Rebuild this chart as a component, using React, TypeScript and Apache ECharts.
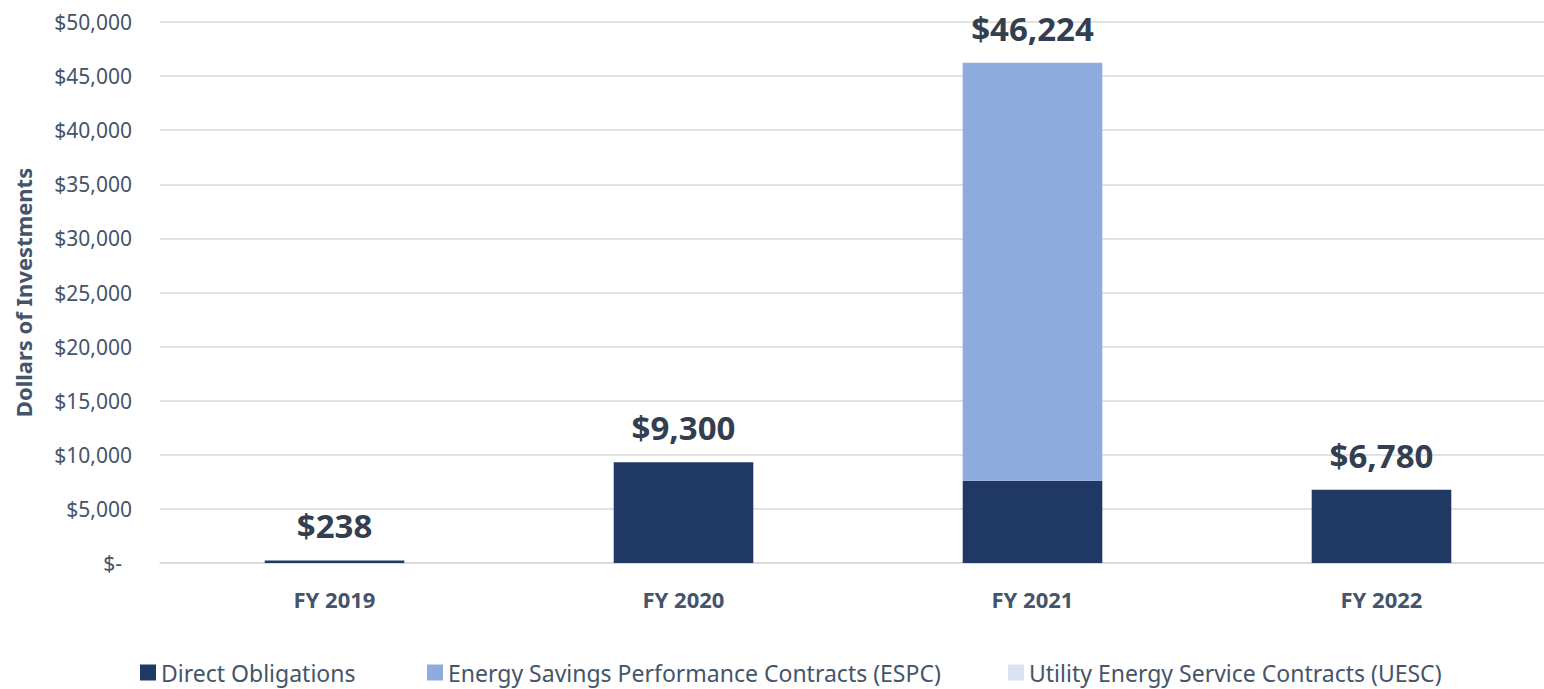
import React, { useEffect, useRef } from "react";
import * as echarts from "echarts";

const categories = ["FY 2019", "FY 2020", "FY 2021", "FY 2022"];
const directObligations = [238, 9300, 7600, 6780];
const espc = [0, 0, 38624, 0];
const uesc = [0, 0, 0, 0];
const yTicks = { min: 0, max: 50000, interval: 5000 };

const totals = categories.map((_, i) => directObligations[i] + espc[i] + uesc[i]);

const FONT = "'Noto Sans', 'Open Sans', sans-serif";
const TEXT = "#44546a";

export default function App() {
  const ref = useRef<HTMLDivElement>(null);
  useEffect(() => {
    document.body.style.margin = "0";
    const chart = echarts.init(ref.current!, undefined, { renderer: "svg" });
    const legendBase = {
      bottom: 0,
      itemWidth: 16,
      itemHeight: 16,
      itemGap: 6,
      icon: "rect",
      textStyle: { fontFamily: FONT, fontSize: 23, color: TEXT },
    };
    chart.setOption({
      animation: false,
      textStyle: { fontFamily: FONT },
      grid: { left: 160, right: 0, top: 22, bottom: 126 },
      legend: [
        { ...legendBase, left: 135, data: ["Direct Obligations"] },
        { ...legendBase, left: 422, data: ["Energy Savings Performance Contracts (ESPC)"] },
        { ...legendBase, left: 1003, data: ["Utility Energy Service Contracts (UESC)"] },
      ],
      xAxis: {
        type: "category",
        data: categories,
        axisLine: { lineStyle: { color: "#d9d9d9", width: 1.5 } },
        axisTick: { show: false },
        axisLabel: {
          margin: 25,
          fontFamily: FONT,
          fontSize: 22,
          fontWeight: "bold",
          color: TEXT,
        },
      },
      yAxis: {
        type: "value",
        min: yTicks.min,
        max: yTicks.max,
        interval: yTicks.interval,
        name: "Dollars of Investments",
        nameLocation: "middle",
        nameGap: 126,
        nameTextStyle: { fontFamily: FONT, fontSize: 22, fontWeight: "bold", color: TEXT },
        axisLine: { show: false },
        axisTick: { show: false },
        splitLine: { lineStyle: { color: "#d9d9d9", width: 1.5 } },
        axisLabel: {
          margin: 28,
          fontFamily: FONT,
          fontSize: 21,
          color: TEXT,
          formatter: (v: number) =>
            v === 0 ? "{z|$-}" : "$" + v.toLocaleString("en-US"),
          rich: { z: { fontFamily: FONT, fontSize: 21, color: TEXT, padding: [0, 10, 0, 0] } },
        },
      },
      series: [
        {
          name: "Direct Obligations",
          type: "bar",
          stack: "total",
          barWidth: "40%",
          data: directObligations,
          itemStyle: { color: "#203864" },
        },
        {
          name: "Energy Savings Performance Contracts (ESPC)",
          type: "bar",
          stack: "total",
          data: espc,
          itemStyle: { color: "#8faadc" },
        },
        {
          name: "Utility Energy Service Contracts (UESC)",
          type: "bar",
          stack: "total",
          data: uesc,
          itemStyle: { color: "#dae3f3" },
          label: {
            show: true,
            position: "top",
            distance: 18,
            fontFamily: FONT,
            fontSize: 33,
            fontWeight: "bold",
            color: "#333f50",
            formatter: (p: any) => "$" + totals[p.dataIndex].toLocaleString("en-US"),
          },
        },
      ],
    });
    return () => chart.dispose();
  }, []);
  return (
    <div
      style={{
        position: "absolute",
        left: 0,
        top: 0,
        width: 1544,
        height: 689,
        overflow: "hidden",
      }}
    >
      <div ref={ref} style={{ width: 1556, height: 689 }} />
    </div>
  );
}
